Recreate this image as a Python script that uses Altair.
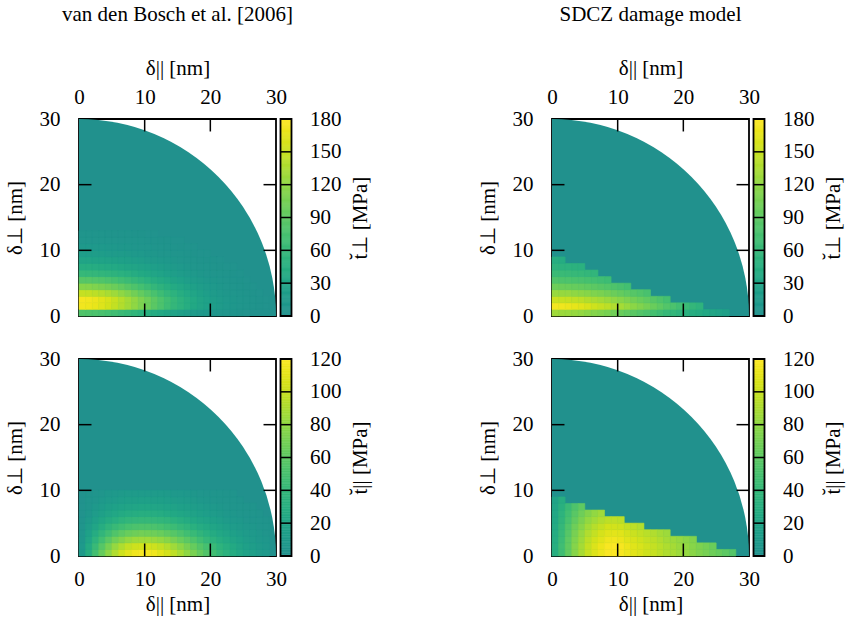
import math
import altair as alt
import pandas as pd

FONT = "Liberation Serif"
FS = 21
W = 197
H = 197
R = 30
AXIS_VALUES = [0, 10, 20, 30]
INNER_TICKS = [10, 20]
TICK_LEN = 1.9

COL_TITLES = ["van den Bosch et al. [2006]", "SDCZ damage model"]
X_TITLE = "δ|| [nm]"
Y_TITLE = "δ⊥ [nm]"
CB_TITLE_PERP = "t\u0306⊥ [MPa]"
CB_TITLE_PAR = "t\u0306|| [MPa]"
CB_PERP_VALUES = [0, 30, 60, 90, 120, 150, 180]
CB_PAR_VALUES = [0, 20, 40, 60, 80, 100, 120]

# Traction estimates [MPa] on a 1 nm grid: row j covers delta_perp in [j, j+1],
# entry i covers delta_par in [i, i+1]; missing cells are ~0 MPa.
VDB_PERP = [
    [81, 80, 78, 76, 73, 69, 65, 61, 56, 51, 46, 41, 37, 32, 28, 24, 20, 17, 14, 12, 9, 8, 6, 5, 4, 3],
    [173, 171, 168, 162, 156, 148, 139, 130, 120, 109, 99, 88, 78, 68, 59, 51, 43, 36, 30, 25, 20, 16, 13, 10, 8, 6, 5, 4, 3],
    [175, 173, 170, 164, 158, 150, 141, 131, 121, 110, 100, 89, 79, 69, 60, 51, 44, 37, 30, 25, 20, 17, 13, 11, 8, 6, 5, 4, 3],
    [149, 147, 144, 140, 134, 128, 120, 112, 103, 94, 85, 76, 67, 59, 51, 44, 37, 31, 26, 21, 17, 14, 11, 9, 7, 5, 4, 3],
    [115, 114, 111, 108, 104, 99, 93, 86, 80, 73, 66, 59, 52, 45, 39, 34, 29, 24, 20, 17, 13, 11, 9, 7, 5, 4, 3],
    [86, 85, 83, 81, 78, 74, 69, 65, 60, 54, 49, 44, 39, 34, 29, 25, 21, 18, 15, 12, 10, 8, 7, 5, 4, 3],
    [61, 60, 59, 57, 55, 52, 49, 46, 42, 38, 35, 31, 28, 24, 21, 18, 15, 13, 11, 9, 7, 6, 5, 4, 3],
    [43, 43, 42, 40, 39, 37, 35, 32, 30, 27, 25, 22, 19, 17, 15, 13, 11, 9, 7, 6, 5, 4, 3, 3],
    [30, 30, 29, 28, 27, 26, 24, 23, 21, 19, 17, 15, 14, 12, 10, 9, 7, 6, 5, 4, 4, 3],
    [20, 20, 19, 19, 18, 17, 16, 15, 14, 13, 11, 10, 9, 8, 7, 6, 5, 4, 3, 3],
    [13, 13, 13, 13, 12, 12, 11, 10, 9, 9, 8, 7, 6, 5, 5, 4, 3, 3],
    [9, 9, 9, 8, 8, 8, 7, 7, 6, 6, 5, 5, 4, 4, 3, 3],
    [6, 6, 6, 6, 5, 5, 5, 5, 4, 4, 3, 3],
]
SDCZ_PERP = [
    [129, 127, 126, 124, 122, 118, 114, 111, 107, 102, 98, 93, 88, 83, 78, 73, 68, 62, 58, 53, 48, 44, 40, 36, 32, 28, 24],
    [174, 172, 170, 167, 164, 159, 154, 149, 144, 138, 132, 125, 118, 112, 105, 98, 91, 83, 78, 71, 65, 59, 53],
    [152, 150, 149, 146, 144, 139, 135, 131, 126, 121, 116, 110, 104, 98, 92, 86, 80, 73],
    [125, 124, 123, 120, 118, 115, 111, 108, 104, 99, 95, 90, 85, 81, 76],
    [100, 99, 98, 96, 95, 92, 89, 86, 83, 80, 76, 72],
    [81, 80, 79, 77, 76, 74, 72, 69, 67],
    [64, 64, 63, 62, 61, 59, 57],
    [52, 51, 51, 50, 49],
    [43, 42],
]
VDB_PAR = [
    [10, 29, 48, 64, 79, 92, 103, 110, 115, 118, 117, 115, 110, 105, 97, 89, 80, 72, 63, 55, 47, 40, 34, 28, 23, 18, 15, 11, 9, 7],
    [9, 26, 42, 57, 70, 82, 91, 98, 102, 104, 104, 102, 98, 93, 86, 79, 71, 64, 56, 49, 42, 35, 30, 25, 20, 16, 13, 10, 8, 6],
    [7, 21, 35, 47, 58, 68, 75, 81, 85, 86, 86, 84, 81, 77, 71, 65, 59, 53, 46, 40, 34, 29, 25, 20, 17, 13, 11, 8, 7, 5],
    [6, 17, 28, 38, 46, 54, 60, 65, 67, 69, 68, 67, 65, 61, 57, 52, 47, 42, 37, 32, 27, 23, 20, 16, 13, 11, 9, 7, 5, 4],
    [4, 13, 21, 29, 36, 42, 46, 50, 52, 53, 53, 52, 50, 47, 44, 40, 36, 32, 28, 25, 21, 18, 15, 12, 10, 8, 7, 5, 4, 3],
    [3, 10, 16, 22, 27, 31, 35, 38, 39, 40, 40, 39, 38, 36, 33, 30, 27, 24, 21, 19, 16, 14, 11, 9, 8, 6, 5, 4, 3],
    [2, 7, 12, 16, 20, 23, 26, 28, 29, 30, 30, 29, 28, 26, 24, 22, 20, 18, 16, 14, 12, 10, 8, 7, 6, 4, 4, 3],
    [2, 5, 9, 12, 15, 17, 19, 20, 21, 22, 22, 21, 20, 19, 18, 16, 15, 13, 12, 10, 9, 7, 6, 5, 4, 3, 3],
    [1, 4, 6, 9, 11, 12, 14, 15, 15, 16, 16, 15, 15, 14, 13, 12, 11, 10, 8, 7, 6, 5, 4, 4, 3],
    [1, 3, 5, 6, 8, 9, 10, 11, 11, 11, 11, 11, 11, 10, 9, 9, 8, 7, 6, 5, 5, 4, 3, 3],
]
SDCZ_PAR = [
    [30, 46, 62, 77, 89, 100, 108, 114, 119, 120, 118, 114, 110, 107, 103, 100, 96, 92, 89, 85, 82, 78, 74, 71, 67, 64, 60, 56],
    [30, 46, 61, 76, 88, 99, 107, 113, 118, 119, 117, 113, 109, 106, 102, 99, 95, 91, 88, 84, 81, 77, 73, 70, 66],
    [29, 44, 60, 74, 85, 96, 104, 109, 114, 115, 113, 109, 106, 103, 99, 96, 92, 88, 85, 82, 79, 75],
    [28, 42, 57, 71, 82, 92, 99, 105, 109, 110, 109, 105, 101, 98, 95, 92, 88, 85],
    [26, 40, 54, 67, 77, 87, 94, 99, 104, 104, 103, 99, 96, 93],
    [24, 37, 50, 62, 72, 81, 87, 92, 96, 97, 96],
    [23, 35, 47, 58, 67, 75, 81, 86],
    [21, 32, 43, 53, 61],
    [19, 29],
]


def cell_frame(rows):
    recs = []
    for j, row in enumerate(rows):
        for i, v in enumerate(row):
            if v > 0 and (i + 1) ** 2 + (j + 1) ** 2 <= R * R:
                recs.append({"x": i, "x2": i + 1, "y": j, "y2": j + 1, "v": v})
    return pd.DataFrame(recs)


def panel(rows, vmax, cb_values, cb_title, top, title=None):
    xs = alt.Scale(domain=[0, R], nice=False, zero=False)
    ys = alt.Scale(domain=[0, R], nice=False, zero=False)
    cs = alt.Scale(domain=[0, vmax], scheme=alt.SchemeParams(name="viridis", extent=[0.5, 1.0]))
    xaxis = alt.Axis(orient="top" if top else "bottom", values=AXIS_VALUES, title=X_TITLE,
                     ticks=False, domain=False, grid=False, labelFlush=False,
                     labelPadding=12, titlePadding=8 if top else 4)
    yaxis = alt.Axis(orient="left", values=AXIS_VALUES, title=Y_TITLE, ticks=False, domain=False,
                     grid=False, labelFlush=False, labelPadding=19, titlePadding=14)
    X = lambda f: alt.X(f, type="quantitative", scale=xs, axis=xaxis)
    Y = lambda f: alt.Y(f, type="quantitative", scale=ys, axis=yaxis)

    bg = alt.Chart(pd.DataFrame({"x": [0], "y": [0], "r": [R], "v": [0]})).mark_arc(
        theta=0, theta2=math.pi / 2
    ).encode(
        x=X("x"), y=Y("y"),
        radius=alt.Radius("r:Q", scale=alt.Scale(type="linear", domain=[0, R], range=[0, W], zero=True)),
        color=alt.Color("v:Q", scale=cs, legend=None),
    )
    heat = alt.Chart(cell_frame(rows)).mark_rect(strokeWidth=0.6).encode(
        x=X("x"), x2="x2", y=Y("y"), y2="y2",
        color=alt.Color("v:Q", scale=cs, legend=None),
        stroke=alt.Stroke("v:Q", scale=cs, legend=None),
    )
    trecs = []
    for t in INNER_TICKS:
        trecs += [
            {"x": t, "x2": t, "y": 0, "y2": TICK_LEN},
            {"x": t, "x2": t, "y": R - TICK_LEN, "y2": R},
            {"x": 0, "x2": TICK_LEN, "y": t, "y2": t},
            {"x": R - TICK_LEN, "x2": R, "y": t, "y2": t},
        ]
    ticks = alt.Chart(pd.DataFrame(trecs)).mark_rule(color="black", strokeWidth=1.5).encode(
        x=X("x"), x2="x2", y=Y("y"), y2="y2"
    )
    main = alt.layer(bg, heat, ticks)

    levels = list(range(vmax))
    cbdf = pd.DataFrame({"lo": levels, "hi": [l + 1 for l in levels], "v": [l + 0.5 for l in levels],
                         "a": 0, "b": 1})
    cbx = alt.Scale(domain=[0, 1], range=[W + 4.5, W + 15.5])
    cby = alt.Scale(domain=[0, vmax], nice=False, zero=False)
    cbaxis = alt.Axis(orient="right", values=cb_values, title=cb_title, offset=15.5, ticks=False,
                      domain=False, grid=False, labelFlush=False, labelPadding=18, titleAngle=270,
                      titleBaseline="top", titlePadding=8, labelAlign="left")
    CX = lambda f: alt.X(f, type="quantitative", scale=cbx, axis=None)
    CY = lambda f: alt.Y(f, type="quantitative", scale=cby, axis=cbaxis)
    bar = alt.Chart(cbdf).mark_rect(strokeWidth=0.6).encode(
        x=CX("a"), x2="b", y=CY("lo"), y2="hi",
        color=alt.Color("v:Q", scale=cs, legend=None),
        stroke=alt.Stroke("v:Q", scale=cs, legend=None),
    )
    cbt = pd.DataFrame({"t": cb_values[1:-1], "a": 0, "b": 1})
    cbticks = alt.Chart(cbt).mark_rule(color="black", strokeWidth=1.5).encode(
        x=CX("a"), x2="b", y=CY("t")
    )
    frame = pd.DataFrame({"a": [0], "b": [1], "lo": [0], "hi": [vmax]})
    cbframe = alt.Chart(frame).mark_rect(fillOpacity=0, stroke="black", strokeWidth=1.8).encode(
        x=CX("a"), x2="b", y=CY("lo"), y2="hi"
    )
    cbar = alt.layer(bar, cbticks, cbframe)

    ch = alt.layer(main, cbar).resolve_scale(x="independent", y="independent").properties(width=W, height=H)
    if title:
        ch = ch.properties(title=alt.TitleParams(title, anchor="middle", frame="group", fontSize=FS,
                                                 font=FONT, fontWeight="normal", offset=32, color="black"))
    return ch


tl = panel(VDB_PERP, 180, CB_PERP_VALUES, CB_TITLE_PERP, True, COL_TITLES[0])
tr = panel(SDCZ_PERP, 180, CB_PERP_VALUES, CB_TITLE_PERP, True, COL_TITLES[1])
bl = panel(VDB_PAR, 120, CB_PAR_VALUES, CB_TITLE_PAR, False)
br = panel(SDCZ_PAR, 120, CB_PAR_VALUES, CB_TITLE_PAR, False)

ind = dict(color="independent", stroke="independent")
chart = alt.vconcat(
    alt.hconcat(tl, tr, spacing=105).resolve_scale(**ind),
    alt.hconcat(bl, br, spacing=105).resolve_scale(**ind),
    spacing=20,
).resolve_scale(**ind).configure_view(stroke="black", strokeWidth=1.8).configure_axis(
    labelFont=FONT, titleFont=FONT, labelFontSize=FS, titleFontSize=FS, titleFontWeight="normal",
    labelColor="black", titleColor="black"
).properties(background="white", padding={"left": 3, "top": 3, "right": 3, "bottom": 3})

chart.save("out.html", embed_options={"renderer": "svg", "actions": False})
